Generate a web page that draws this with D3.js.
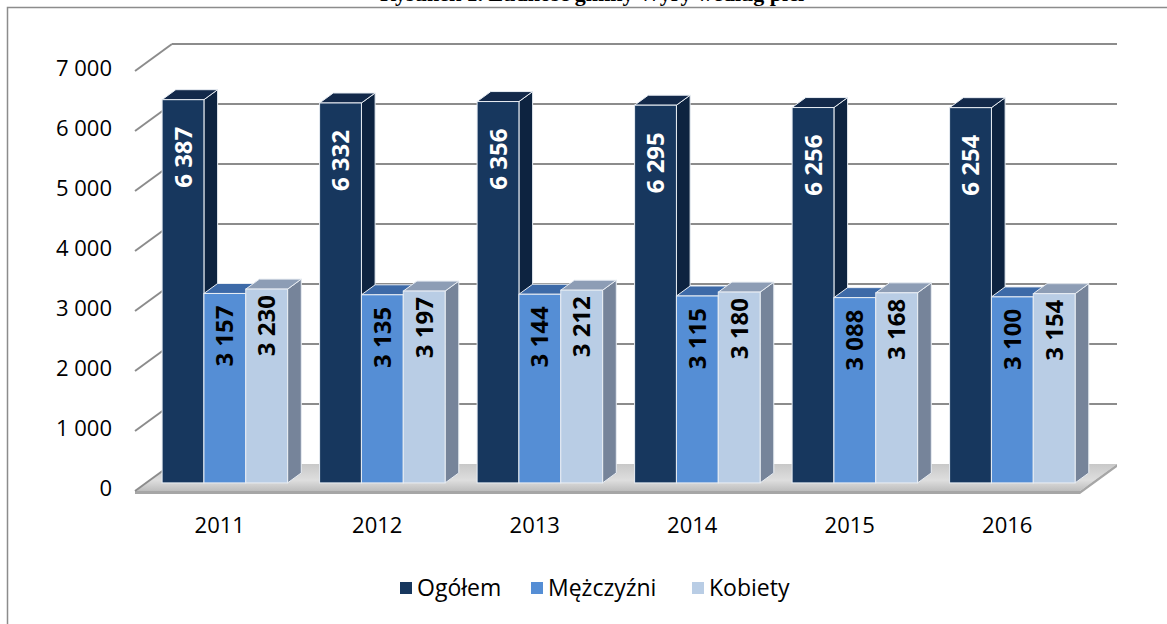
<!DOCTYPE html>
<html>
<head>
<meta charset="utf-8">
<script src="https://cdn.jsdelivr.net/npm/d3@7"></script>
<style>
  body { margin: 0; background: #fff; }
  svg { display: block; }
</style>
</head>
<body>
<svg id="chart" width="1167" height="624"></svg>
<script>
var years = ["2011", "2012", "2013", "2014", "2015", "2016"];
var ogolem = [6387, 6332, 6356, 6295, 6256, 6254];
var mezczyzni = [3157, 3135, 3144, 3115, 3088, 3100];
var kobiety = [3230, 3197, 3212, 3180, 3168, 3154];
var seriesNames = ["Ogółem", "Mężczyźni", "Kobiety"];
var yTicks = [0, 1000, 2000, 3000, 4000, 5000, 6000, 7000];

var svg = d3.select("#chart");

// 3d projection: front plane x, value, depth (0..1)
var baseY = 491, depthX = 37, depthY = -27;
var left = 135, right = 1080;

var x = d3.scaleBand().domain(years).range([left, right]);
var h = d3.scaleLinear().domain([0, 7000]).range([0, 420]);

function px(xf, d) { return xf + depthX * d; }
function py(v, d) { return baseY - h(v) + depthY * d; }

var colors = [
  {front: "#17375e", top: "#13294a", side: "#0d2340", label: "#fff"},
  {front: "#558ed5", top: "#3d6aa8", side: "#3a639a", label: "#000"},
  {front: "#b9cde5", top: "#8d9db5", side: "#76849a", label: "#000"}
];

var fmt = function(v) { return d3.format(",")(v).replace(/,/g, " "); };

// border + clipped title
svg.append("rect")
  .attr("x", 7.5).attr("y", 7.5)
  .attr("width", 1300).attr("height", 700)
  .attr("fill", "none").attr("stroke", "#8c8c8c").attr("stroke-width", 1.5);

svg.append("text")
  .attr("x", 592).attr("y", 1)
  .attr("text-anchor", "middle")
  .style("font-family", "Liberation Serif")
  .style("font-weight", "bold")
  .style("font-size", "22px")
  .text("Rysunek 1. Ludność gminy Wyry według płci");

// floor
var defs = svg.append("defs");
var grad = defs.append("linearGradient").attr("id", "floorGrad")
  .attr("x1", 0).attr("y1", 0).attr("x2", 0).attr("y2", 1);
grad.append("stop").attr("offset", "0%").attr("stop-color", "#c8c8c8");
grad.append("stop").attr("offset", "60%").attr("stop-color", "#dedede");
grad.append("stop").attr("offset", "100%").attr("stop-color", "#bdbdbd");

var floor = svg.append("g");
floor.append("path")
  .attr("d", "M" + px(left, 0) + "," + py(0, 0) +
    "L" + px(right, 0) + "," + py(0, 0) +
    "L" + px(right, 1) + "," + py(0, 1) +
    "L" + px(left, 1) + "," + py(0, 1) + "Z")
  .attr("fill", "url(#floorGrad)");
floor.append("path")
  .attr("d", "M" + px(left, 0) + "," + py(0, 0) +
    "L" + px(right, 0) + "," + py(0, 0) +
    "L" + px(right, 1) + "," + py(0, 1) +
    "L" + px(right, 1) + "," + (py(0, 1) + 3) +
    "L" + px(right, 0) + "," + (py(0, 0) + 3) +
    "L" + px(left, 0) + "," + (py(0, 0) + 3) + "Z")
  .attr("fill", "#a6a6a6");

// gridlines (back wall + diagonal side)
var grid = svg.append("g");
yTicks.forEach(function(t) {
  if (t > 0) {
    grid.append("line")
      .attr("x1", px(left, 1)).attr("y1", py(t, 1))
      .attr("x2", px(right, 1)).attr("y2", py(t, 1))
      .attr("stroke", "#8c8c8c").attr("stroke-width", 2);
  }
  grid.append("line")
    .attr("x1", px(left, 0)).attr("y1", py(t, 0))
    .attr("x2", px(left, 1)).attr("y2", py(t, 1))
    .attr("stroke", "#8c8c8c").attr("stroke-width", 2);
  svg.append("text")
    .attr("x", 112).attr("y", py(t, 0) - 1)
    .attr("text-anchor", "end")
    .attr("dominant-baseline", "middle")
    .style("font-family", "Open Sans")
    .style("font-size", "22px")
    .text(fmt(t));
});

// bars
var d0 = 0.3, d1 = 0.67;
var pad = 16;
var bw = (x.bandwidth() - 2 * pad) / 3;
var allSeries = [ogolem, mezczyzni, kobiety];
var labelPad = [27, 12, 6];

var bars = svg.append("g");
years.forEach(function(yr, i) {
  allSeries.forEach(function(s, j) {
    var v = s[i];
    var xf = x(yr) + pad + j * bw;
    var c = colors[j];
    var g = bars.append("g");
    // side
    g.append("path")
      .attr("d", "M" + px(xf + bw, d0) + "," + py(0, d0) +
        "L" + px(xf + bw, d0) + "," + py(v, d0) +
        "L" + px(xf + bw, d1) + "," + py(v, d1) +
        "L" + px(xf + bw, d1) + "," + py(0, d1) + "Z")
      .attr("fill", c.side).attr("stroke", "#e8edf3").attr("stroke-width", 1);
    // top
    g.append("path")
      .attr("d", "M" + px(xf, d0) + "," + py(v, d0) +
        "L" + px(xf + bw, d0) + "," + py(v, d0) +
        "L" + px(xf + bw, d1) + "," + py(v, d1) +
        "L" + px(xf, d1) + "," + py(v, d1) + "Z")
      .attr("fill", c.top).attr("stroke", "#e8edf3").attr("stroke-width", 1);
    // front
    g.append("rect")
      .attr("x", px(xf, d0)).attr("y", py(v, d0))
      .attr("width", bw).attr("height", h(v))
      .attr("fill", c.front).attr("stroke", "#e8edf3").attr("stroke-width", 1);
    // value label
    var cx = px(xf, d0) + bw / 2;
    var cy = py(v, d0) + labelPad[j];
    g.append("text")
      .attr("transform", "translate(" + (cx + 8.5) + "," + cy + ") rotate(-90)")
      .attr("text-anchor", "end")
      .style("font-family", "Open Sans")
      .style("font-weight", "bold")
      .style("font-size", "24px")
      .attr("fill", c.label)
      .text(fmt(v));
  });
  svg.append("text")
    .attr("x", x(yr) + x.bandwidth() / 2 + 6).attr("y", 527)
    .attr("text-anchor", "middle")
    .attr("dominant-baseline", "middle")
    .style("font-family", "Open Sans")
    .style("font-size", "22px")
    .text(yr);
});

// legend
var legendX = [400, 531, 692];
seriesNames.forEach(function(name, j) {
  svg.append("rect")
    .attr("x", legendX[j]).attr("y", 582)
    .attr("width", 12).attr("height", 12)
    .attr("fill", colors[j].front);
  svg.append("text")
    .attr("x", legendX[j] + 17).attr("y", 596)
    .style("font-family", "Open Sans")
    .style("font-size", "23px")
    .text(name);
});
</script>
</body>
</html>
